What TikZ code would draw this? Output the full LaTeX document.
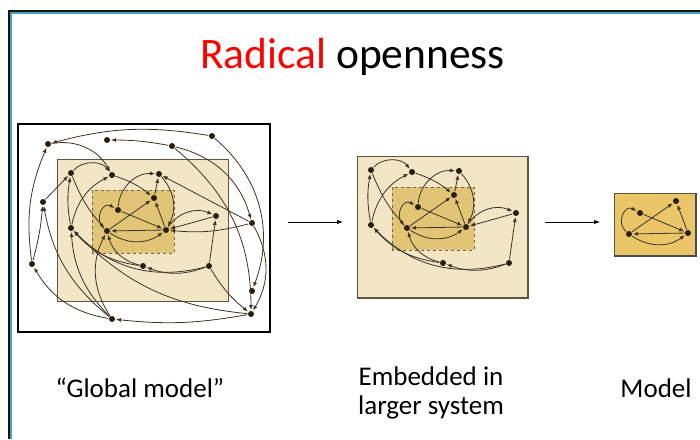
\documentclass[tikz,border=0pt]{standalone}
\usepackage{fontspec}
\setmainfont{Carlito}
\usepackage{tikz}
\usetikzlibrary{arrows.meta}
\definecolor{myframe}{RGB}{20,20,20}
\definecolor{myteal}{RGB}{70,160,185}
\definecolor{mytan}{RGB}{242,230,198}
\definecolor{mygold}{RGB}{226,196,118}
\definecolor{mygoldbox}{RGB}{234,198,104}
\definecolor{myedge}{RGB}{60,52,36}
\definecolor{mydot}{RGB}{40,30,12}
\definecolor{myrim}{RGB}{95,85,62}
\tikzset{
  dot/.style={circle, fill=mydot, inner sep=0pt, minimum size=6pt},
  link/.style={-{Latex[length=5pt,width=4pt]}, color=myedge,
    line width=0.8pt, shorten >=0.8pt, shorten <=0.5pt},
  arrow/.style={-{Latex[length=6pt,width=4.5pt]}, line width=0.9pt, color=black},
  tanbox/.style={fill=mytan, draw=myrim, line width=0.9pt},
  corebox/.style={fill=mygold, draw=myrim!90, line width=0.9pt, dashed},
  captext/.style={font=\fontsize{27}{29}\selectfont, align=center}
}

% dashed core: four nodes and their links
\newcommand{\corenet}[1]{%
  \node[dot] (#1J) at (118,229) {};
  \node[dot] (#1I) at (154,241) {};
  \node[dot] (#1N) at (107,208) {};
  \node[dot] (#1O) at (166,209) {};
  \draw[link] (#1N) to[out=140,in=150,looseness=1.6] (#1J);
  \draw[link] (#1J) -- (#1O);
  \draw[link] (#1N) -- (#1I);
  \draw[link] (#1O) -- (#1I);
  \draw[link] (#1O) -- (#1N);
  \draw[link] (#1N) to[bend right=35] (#1O);
}

% tan system around the core
\newcommand{\tannet}[1]{%
  \corenet{#1}
  \node[dot] (#1E) at (71,266) {};
  \node[dot] (#1F) at (112,264) {};
  \node[dot] (#1G) at (159,265) {};
  \node[dot] (#1K) at (216,223) {};
  \node[dot] (#1M) at (71,211) {};
  \node[dot] (#1Q) at (143,173) {};
  \node[dot] (#1R) at (209,173) {};
  \draw[link] (#1E) to[bend left=50] (#1F);
  \draw[link] (#1M) to[bend left=10] (#1E);
  \draw[link] (#1M) to[bend left=25] (#1F);
  \draw[link] (#1F) to[bend left=10] (#1I);
  \draw[link] (#1E) to[bend right=10] (#1N);
  \draw[link] (#1J) to[bend left=45] (#1G);
  \draw[link] (#1I) -- (#1G);
  \draw[link] (#1G) to[bend left=35] (#1O);
  \draw[link] (#1K) -- (#1O);
  \draw[link] (#1O) to[bend left=40] (#1K);
  \draw[link] (#1R) -- (#1K);
  \draw[link] (#1R) to[bend left=20] (#1Q);
  \draw[link] (#1R) to[bend left=30] (#1M);
  \draw[link] (#1Q) to[bend left=20] (#1M);
  \draw[link] (#1Q) to[bend left=30] (#1N);
}

\begin{document}
\begin{tikzpicture}[x=1pt, y=1pt]
  \useasboundingbox (0,0) rectangle (700,439);

  % Slide frame
  \draw[myframe, line width=2pt] (9,0) -- (9,428) -- (700,428);
  \draw[myteal, line width=1.6pt] (11,0) -- (11,426) -- (700,426);

  % Title
  \node[anchor=base, font=\fontsize{43.5}{50}\selectfont] (title) at (352.5,370)
    {\textcolor{red}{Radical} openness};

  % Global model: black frame, tan system, dashed core
  \draw[black, line width=2pt] (18,107) rectangle (270,315);
  \draw[tanbox] (57,138) rectangle (228,280);
  \fill[corebox] (92,186) rectangle (174,249);
  \draw[corebox, fill=none] (92,186) rectangle (174,249);
  \tannet{g}

  % Outer nodes of the global model
  \node[dot] (gA) at (48,295) {};
  \node[dot] (gB) at (107,299) {};
  \node[dot] (gC) at (172,293) {};
  \node[dot] (gD) at (212,303) {};
  \node[dot] (gH) at (43,237) {};
  \node[dot] (gL) at (252,216) {};
  \node[dot] (gP) at (32,175) {};
  \node[dot] (gS) at (252,148) {};
  \node[dot] (gT) at (112,120) {};
  \node[dot] (gU) at (251,125) {};

  \draw[link] (gD) to[bend right=12] (gA);
  \draw[link] (gC) to[bend right=5] (gB);
  \draw[link] (gA) to[bend left=35] (gF);
  \draw[link] (gP) to[bend left=15] (gA);
  \draw[link] (gH) -- (gE);
  \draw[link] (gP) to[bend right=5] (gH);
  \draw[link] (gT) to[bend left=25] (gP);
  \draw[link] (gT) to[bend left=20] (gH);
  \draw[link] (gT) to[bend left=20] (gM);
  \draw[link] (gT) to[bend left=30] (gN);
  \draw[link] (gU) to[bend left=8] (gT);
  \draw[link] (gU) to[bend left=20] (gM);
  \draw[link] (gR) to[bend right=10] (gU);
  \draw[link] (gL) to[bend left=30] (gU);
  \draw[link] (gD) to[bend left=35] (gS);
  \draw[link] (gC) to[bend left=30] (gL);
  \draw[link] (gC) to[bend left=25] (gU);
  \draw[link] (gL) -- (gG);
  \draw[link] (gL) to[bend left=10] (gO);

  % Embedded in larger system
  \begin{scope}[shift={(300,3)}]
    \draw[tanbox] (57,138) rectangle (228,280);
    \draw[myrim, line width=1.4pt] (57,138) -- (228,138) -- (228,280);
    \fill[corebox] (92,186) rectangle (174,249);
    \draw[corebox, fill=none] (92,186) rectangle (174,249);
    \tannet{e}
  \end{scope}

  % Model on its own
  \begin{scope}[shift={(522,-3)}]
    \fill[mygoldbox, draw=myrim, line width=0.8pt] (92,186) rectangle (174,249);
    \draw[black!70, line width=1.6pt] (92,186) -- (174,186) -- (174,249);
    \corenet{m}
  \end{scope}

  % Arrows between the stages
  \coordinate (a1from) at (288,217);
  \coordinate (a1to) at (343,217);
  \coordinate (a2from) at (545,217);
  \coordinate (a2to) at (600,217);
  \draw[arrow] (a1from) -- (a1to);
  \draw[arrow] (a2from) -- (a2to);

  % Captions
  \node[captext, anchor=base] (capglobal) at (140,42) {“Global model”};
  \node[captext] (capembed) at (431,46) {Embedded in\\larger system};
  \node[captext, anchor=base] (capmodel) at (656,42) {Model};
\end{tikzpicture}
\end{document}
